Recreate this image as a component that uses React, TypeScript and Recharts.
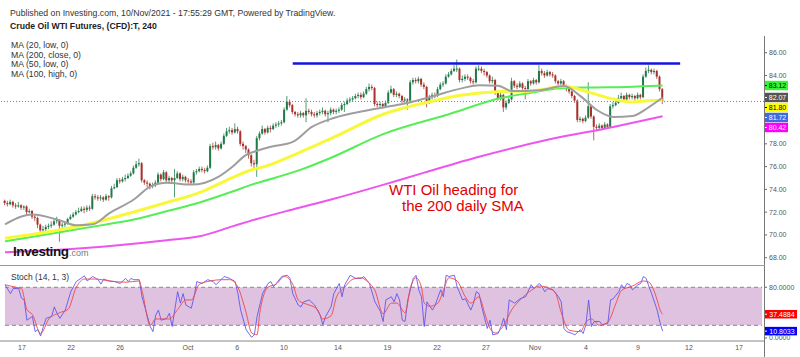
import React from 'react';
import { ComposedChart, Bar, Line, XAxis, YAxis, ReferenceLine, ReferenceArea } from 'recharts';

// ---------------- DATA ----------------
const firstOpen = 73.0;
const closes = [
  72.8,72.7,72.9,72.6,72.5,72.6,72.4,72.5,72.0,72.1,
  71.6,71.5,70.9,70.4,70.5,70.7,70.8,70.9,71.2,71.3,
  70.8,70.9,71.0,71.4,71.6,71.8,72.0,72.1,72.3,72.2,
  72.4,72.3,73.4,73.3,73.2,73.3,73.1,73.4,73.3,74.1,
  74.2,74.8,74.7,74.9,75.0,75.2,75.4,75.9,76.2,76.3,
  74.8,74.6,74.5,74.3,74.4,74.6,75.3,74.9,75.5,74.8,
  75.0,74.8,75.0,75.4,74.9,75.1,74.8,74.7,74.6,75.5,
  75.6,75.8,75.7,75.6,75.9,77.8,77.7,77.9,77.6,78.0,
  78.7,79.1,79.2,79.0,79.3,79.1,78.0,77.8,77.5,77.0,
  76.3,76.2,78.5,78.9,79.3,79.0,79.4,79.3,79.6,79.7,
  79.8,79.9,81.0,81.7,81.4,80.8,80.6,80.5,80.7,80.5,
  80.9,80.8,80.6,80.5,80.7,80.8,80.9,80.6,80.7,81.0,
  80.8,80.9,81.0,81.4,81.5,81.8,81.9,82.0,82.2,82.3,
  82.1,82.4,82.8,83.0,82.9,81.5,81.4,81.5,81.3,81.6,
  82.5,82.8,82.3,82.4,82.2,81.8,81.9,81.8,83.4,83.6,
  83.5,83.7,83.2,83.0,81.7,82.1,82.3,82.2,82.8,83.2,
  83.3,83.9,84.1,84.4,84.6,84.6,83.6,83.7,83.9,83.8,
  83.5,83.4,84.6,84.6,84.4,84.3,84.0,83.5,83.6,82.5,
  82.0,82.3,81.2,81.6,81.9,83.5,83.1,83.0,83.3,82.9,
  82.8,83.5,83.3,83.6,83.4,84.4,84.2,84.0,84.3,84.1,
  84.0,83.5,83.3,83.5,83.1,82.8,82.6,82.2,81.8,80.1,
  80.2,80.0,80.3,81.3,80.4,79.5,79.4,79.6,79.4,79.7,
  79.5,81.3,81.4,81.6,82.0,82.2,81.9,82.3,82.1,82.2,
  82.0,82.3,82.1,83.9,84.4,84.5,84.3,84.4,83.9,82.8,
  81.72,
];
const highs = [
  73.1,73.0,73.1,73.0,72.8,72.9,72.7,72.6,72.6,72.3,
  72.2,71.8,71.6,71.0,70.8,70.9,71.0,71.2,71.4,71.6,
  71.4,71.1,71.2,71.5,71.8,72.0,72.2,72.4,72.5,72.5,
  72.6,72.6,73.6,73.6,73.5,73.5,73.4,73.6,73.5,74.3,
  74.5,75.0,75.0,75.1,75.3,75.4,75.6,76.1,76.5,76.7,
  76.4,74.9,74.8,74.6,74.6,74.8,75.5,75.4,75.7,75.6,
  75.2,75.1,75.8,75.6,75.5,75.3,75.2,75.0,74.9,75.7,
  75.8,76.0,76.0,75.9,76.1,78.0,78.1,78.2,78.0,78.2,
  78.9,79.4,79.5,79.4,79.8,79.5,79.2,78.2,77.9,77.6,
  77.1,76.6,78.7,79.1,79.6,79.4,79.6,79.6,79.8,79.9,
  80.0,80.1,81.2,82.2,81.9,81.5,80.9,80.8,80.9,80.8,
  82.0,81.1,81.0,80.8,80.9,81.0,81.2,81.0,80.9,81.2,
  81.1,81.1,81.2,81.6,81.7,82.0,82.1,82.2,82.4,82.5,
  82.5,82.6,83.0,83.3,83.2,83.0,81.7,81.7,81.6,81.8,
  82.7,83.1,82.9,82.6,82.5,82.3,82.1,82.0,83.6,83.8,
  83.8,83.9,83.8,83.4,83.1,82.3,82.5,82.5,83.0,83.4,
  83.5,84.1,84.3,84.6,84.9,85.4,84.7,84.0,84.1,84.1,
  83.9,83.7,84.8,84.9,84.8,84.6,84.4,84.1,83.9,83.7,
  82.7,82.5,82.4,81.8,82.2,83.8,83.6,83.3,83.5,83.4,
  83.1,83.7,83.6,83.8,83.7,84.9,84.6,84.4,84.5,84.4,
  84.3,84.1,83.6,83.7,83.6,83.2,82.9,82.7,82.3,81.9,
  80.4,80.3,80.5,83.4,81.4,80.5,79.7,79.8,79.7,79.9,
  79.8,81.5,81.7,81.8,82.3,82.5,82.3,82.5,82.4,82.4,
  82.3,82.5,82.4,84.1,84.7,84.9,84.6,84.6,84.5,84.0,
  82.9,
];
const lows = [
  72.6,72.5,72.6,72.4,72.3,72.4,72.2,72.2,71.7,71.9,
  71.4,71.2,70.6,69.9,70.0,70.3,70.5,70.6,70.8,71.0,
  69.4,70.5,70.7,70.9,71.3,71.5,71.7,71.9,72.0,71.9,
  72.0,72.1,72.2,73.1,73.0,73.0,72.9,73.0,73.0,73.2,
  74.0,74.1,74.5,74.6,74.7,74.9,75.1,75.3,75.8,76.0,
  74.6,74.4,74.2,74.0,74.1,74.2,74.5,74.7,74.8,74.6,
  74.6,74.5,73.3,74.9,74.7,74.7,74.6,74.5,74.4,74.5,
  75.3,75.5,75.5,75.4,75.5,75.8,77.5,77.5,77.4,77.5,
  77.9,78.6,78.9,78.8,78.9,78.9,77.8,77.5,77.2,76.7,
  76.0,75.8,75.1,78.3,78.8,78.8,78.9,79.0,79.2,79.4,
  79.5,79.6,79.8,80.9,81.2,80.6,80.4,80.3,80.3,80.3,
  79.9,80.6,80.4,80.3,80.3,80.5,80.6,80.4,79.9,80.5,
  80.6,80.6,80.7,80.9,80.8,81.4,81.6,81.7,81.9,82.0,
  81.9,82.0,82.3,82.6,82.7,81.3,81.2,81.2,81.1,81.2,
  81.5,82.4,82.1,82.1,82.0,81.6,81.6,81.0,81.7,83.2,
  83.3,83.3,83.0,82.8,81.2,81.5,81.9,82.0,82.1,82.7,
  83.0,83.2,83.8,84.0,84.3,84.3,83.4,83.4,83.5,83.6,
  83.3,83.2,83.3,84.4,84.2,84.0,83.8,83.3,83.3,82.3,
  81.8,81.8,80.8,81.0,81.5,81.8,82.9,82.8,82.9,82.7,
  81.9,82.7,83.1,83.2,83.2,83.3,84.0,83.8,83.9,83.9,
  83.8,83.3,83.1,83.1,82.9,82.6,82.4,82.0,81.6,79.9,
  79.9,79.8,79.9,80.2,80.2,78.3,79.1,79.2,79.2,79.3,
  79.3,79.4,81.1,81.3,81.5,81.9,81.7,81.8,81.9,81.9,
  81.8,81.9,81.9,82.0,83.8,84.2,84.1,84.1,83.7,82.6,
  81.5,
];

// moving averages read at selected candles: [candle index, value]
const ma20Low = [[0,70.93],[10,71.8],[20,71.28],[26,70.84],[32,70.93],[38,71.89],[47,73.11],[53,74.24],[59,74.59],[68,74.42],[73,74.59],[78,75.12],[83,75.99],[88,77.04],[92,77.39],[97,77.74],[105,78.17],[112,79.48],[120,80.27],[131,80.88],[139,81.23],[145,81.49],[155,82.1],[167,82.89],[173,83.15],[180,83.1],[185,82.63],[195,82.71],[204,83.07],[210,82.19],[216,80.97],[222,80.36],[229,80.45],[235,81.23],[240,82.07]];
const ma50Low = [[0,69.7],[23,70.58],[35,71.23],[47,72.02],[59,72.85],[71,73.72],[83,75.03],[89,75.64],[95,76.02],[107,77.19],[120,78.58],[138,80.6],[155,81.7],[167,82.28],[181,82.6],[192,82.65],[204,83.05],[213,82.54],[222,81.93],[229,81.67],[236,81.8],[240,81.8]];
const ma100High = [[0,69.44],[20,70.23],[35,70.84],[47,71.36],[60,72.15],[71,72.85],[83,73.81],[89,74.33],[108,75.73],[119,76.78],[138,78.85],[162,80.6],[181,82.02],[191,82.45],[203,82.89],[215,82.95],[227,83.0],[240,83.12]];
const ma200Close = [[0,68.48],[28,68.83],[59,69.53],[71,69.88],[83,70.75],[89,71.19],[105,72.24],[119,73.11],[137,74.33],[153,75.47],[173,76.86],[198,78.35],[222,79.48],[240,80.42]];

const stochK = [[0,84],[2,70],[3,78],[5,78],[6,63],[7,60],[8,28],[10,34],[11,10],[12,13],[13,3],[14,18],[15,31],[17,34],[18,49],[19,39],[20,31],[22,44],[24,73],[26,89],[27,92],[29,98],[30,90],[32,97],[34,92],[35,85],[36,93],[38,90],[40,89],[42,86],[44,94],[45,89],[46,94],[47,92],[49,92],[50,65],[52,34],[53,18],[54,10],[55,36],[56,44],[57,28],[59,31],[60,39],[61,18],[63,73],[64,55],[65,70],[66,52],[68,47],[69,65],[70,89],[72,86],[74,92],[76,89],[77,84],[80,97],[82,94],[84,89],[85,70],[86,44],[88,13],[90,1],[91,5],[92,34],[94,70],[96,86],[97,89],[98,81],[99,86],[101,97],[103,99],[104,94],[105,70],[107,52],[108,49],[109,57],[111,60],[113,52],[115,36],[116,21],[117,34],[119,49],[120,70],[122,86],[123,65],[124,84],[126,99],[128,94],[130,94],[131,97],[133,86],[135,57],[137,42],[138,26],[139,60],[141,65],[142,57],[143,70],[144,60],[145,28],[146,26],[147,60],[149,94],[150,99],[151,76],[152,65],[153,18],[154,57],[156,44],[157,52],[159,76],[160,65],[161,99],[162,97],[164,99],[165,81],[167,60],[168,62],[170,44],[171,55],[172,73],[173,70],[174,49],[176,15],[177,28],[178,5],[180,7],[181,18],[182,31],[183,13],[184,60],[186,55],[188,62],[190,65],[192,84],[193,78],[195,86],[196,81],[197,73],[198,78],[200,76],[202,65],[203,57],[204,15],[205,10],[207,7],[208,5],[210,13],[211,7],[212,21],[213,60],[214,18],[215,26],[217,26],[218,21],[220,23],[221,60],[222,62],[224,73],[225,84],[226,78],[227,86],[228,84],[229,76],[231,84],[232,86],[233,97],[234,94],[235,81],[236,70],[238,44],[239,25],[240,10.8033]];
const stochD = [[0,84],[4,80],[6,78],[8,45],[10,37],[13,7],[16,30],[20,40],[23,45],[26,80],[29,93],[33,93],[38,90],[44,88],[49,90],[50,75],[53,20],[55,30],[57,30],[60,30],[63,45],[66,60],[68,60],[71,85],[75,90],[79,92],[82,92],[85,80],[88,40],[90,8],[92,5],[93,40],[96,80],[99,85],[102,97],[105,85],[107,60],[109,55],[111,52],[114,45],[116,30],[119,35],[121,65],[124,80],[127,93],[130,95],[132,90],[135,75],[138,38],[141,55],[143,55],[146,40],[148,80],[150,95],[152,80],[153,55],[155,50],[158,55],[160,75],[162,95],[165,90],[168,65],[170,55],[173,65],[175,40],[177,15],[179,8],[182,20],[185,45],[188,60],[192,75],[195,82],[199,78],[201,70],[203,40],[206,12],[210,10],[212,25],[214,30],[217,20],[220,25],[223,55],[225,75],[229,82],[233,90],[235,88],[238,60],[239,45],[240,37.4884]];

const xTickIdx = [6.2, 24.1, 42.0, 66.8, 84.7, 101.8, 121.5, 139.6, 157.7, 175.5, 193.4, 212.0, 231.0, 249.6, 267.9];
const xTickLabels = ['17','22','26','Oct','6','10','14','19','22','27','Nov','4','9','12','17'];
const priceTicks = [68, 70, 72, 74, 76, 78, 84, 86];
const stochTicks = [0, 80];
const maLegend = ['MA (20, low, 0)', 'MA (200, close, 0)', 'MA (50, low, 0)', 'MA (100, high, 0)'];
const resistanceLevel = 85.05;
const resistanceFrom = 105;
const resistanceTo = 246.4;
const lastPrice = 81.72;
const priceTagValues = [83.12, 82.07, 81.80, 81.72, 80.42];
const stochTagValues = [37.4884, 10.8033];
const stochBand = [20, 80];

// ---------------- STYLE ----------------
const FONT = '"Liberation Sans", Arial, Helvetica, sans-serif';
const UP = '#1f7a47';
const DOWN = '#a8322b';
const XMIN = -1.825;
const XMAX = 277.0;
const YMIN = 67.36;
const YMAX = 90.63;
const MAIN_H = 265;
const SMIN = -4.8;
const SMAX = 113.6;
const priceTagStyles = [
  { bg: '#33f533', fg: '#000' },
  { bg: '#555555', fg: '#fff' },
  { bg: '#ffff00', fg: '#000' },
  { bg: '#4169e1', fg: '#fff' },
  { bg: '#ff00ff', fg: '#fff' },
];
const stochTagStyles = [
  { bg: '#ff0000', fg: '#fff' },
  { bg: '#0000ff', fg: '#fff' },
];

const rows = closes.map((c, i) => {
  const o = i === 0 ? firstOpen : closes[i - 1];
  return { i, o, c, h: highs[i], l: lows[i], range: [lows[i], highs[i]] };
});
const series = (pairs: number[][]) => pairs.map(([i, v]) => ({ i, v }));

// stacked tag offsets (TradingView pushes overlapping price tags down)
const pxPerUnit = MAIN_H / (YMAX - YMIN);
const tagShifts: number[] = [];
{
  let prev = -1e9;
  priceTagValues.forEach((v) => {
    const y = (YMAX - v) * pxPerUnit;
    const c = Math.max(y, prev + 10);
    tagShifts.push(c - y);
    prev = c;
  });
}

const Candle = (props: any) => {
  const { x, y, width, height, payload } = props;
  if (!payload || x == null) return null;
  const { o, c, h, l } = payload;
  const hh = Math.abs(height);
  const top = height >= 0 ? y : y + height;
  const ppu = hh / Math.max(h - l, 1e-6);
  const cx = x + width / 2;
  const bTop = top + (h - Math.max(o, c)) * ppu;
  const bBot = top + (h - Math.min(o, c)) * ppu;
  const col = c >= o ? UP : DOWN;
  return (
    <g>
      <line x1={cx} x2={cx} y1={top} y2={top + hh} stroke={col} strokeOpacity={0.75} strokeWidth={1} />
      <rect x={cx - 1} y={bTop} width={2} height={Math.max(1, bBot - bTop)} fill={col} />
    </g>
  );
};

const Tag = (props: any) => {
  const { viewBox, text, bg, fg, shift = 0, w = 23, h = 9.4 } = props;
  if (!viewBox) return null;
  const yy = viewBox.y + shift;
  const x0 = viewBox.x + viewBox.width + 1;
  return (
    <g>
      <rect x={x0} y={yy - h / 2} width={w} height={h} fill={bg} />
      <line x1={x0} x2={x0 + 2} y1={yy} y2={yy} stroke={fg} strokeWidth={1} />
      <text x={x0 + w / 2 + 1} y={yy} dy="0.36em" textAnchor="middle" fontSize={7} fontFamily={FONT} fill={fg}>{text}</text>
    </g>
  );
};

const tickLabel = (v: number) => {
  const k = xTickIdx.indexOf(v);
  return k >= 0 ? xTickLabels[k] : '';
};

const maLine = (pairs: number[][], color: string, width: number, key: string) => (
  <Line key={key} data={series(pairs)} dataKey="v" type="monotone" stroke={color} strokeWidth={width}
    dot={false} activeDot={false} isAnimationActive={false} />
);

export default function App() {
  return (
    <div style={{ position: 'absolute', left: 0, top: 0, width: 800, height: 357, background: '#fff', overflow: 'hidden' }}>
      <div style={{ position: 'absolute', left: 0, top: 0 }}>
        <ComposedChart width={800} height={MAIN_H} data={rows} margin={{ top: 0, right: 0, bottom: 0, left: 0 }}>
          <XAxis dataKey="i" type="number" domain={[XMIN, XMAX]} allowDataOverflow hide />
          <YAxis orientation="right" width={36} domain={[YMIN, YMAX]} allowDataOverflow ticks={priceTicks}
            tickFormatter={(v: number) => v.toFixed(2)} axisLine={false} tickLine={{ stroke: '#666' }} tickSize={3} tickMargin={2}
            tick={{ fontSize: 7, fill: '#555', fontFamily: FONT }} interval={0} />
          <ReferenceLine y={lastPrice} stroke="#5b7de8" strokeDasharray="1 2" strokeWidth={1} />
          <Bar dataKey="range" shape={Candle} barSize={2} isAnimationActive={false} />
          {maLine(ma200Close, '#ee55ee', 2, 'ma200')}
          {maLine(ma100High, '#55ee55', 2, 'ma100')}
          {maLine(ma50Low, '#f8f83a', 3, 'ma50')}
          {maLine(ma20Low, '#9e9e9e', 2, 'ma20')}
          <ReferenceLine segment={[{ x: resistanceFrom, y: resistanceLevel }, { x: resistanceTo, y: resistanceLevel }]} stroke="#1414e0" strokeWidth={2.4} />
          {priceTagValues.map((v, k) => (
            <ReferenceLine key={'pt' + k} y={v} stroke="none"
              label={<Tag text={v.toFixed(2)} bg={priceTagStyles[k].bg} fg={priceTagStyles[k].fg} shift={tagShifts[k]} />} />
          ))}
        </ComposedChart>
      </div>

      <div style={{ position: 'absolute', left: 0, top: 266 }}>
        <ComposedChart width={800} height={91} data={rows} margin={{ top: 0, right: 0, bottom: 0, left: 0 }}>
          <XAxis dataKey="i" type="number" domain={[XMIN, XMAX]} allowDataOverflow ticks={xTickIdx} interval={0}
            tickFormatter={tickLabel} height={16} axisLine={{ stroke: '#888' }} tickLine={false} tickSize={3} tickMargin={1}
            tick={{ fontSize: 7, fill: '#555', fontFamily: FONT }} />
          <YAxis orientation="right" width={36} domain={[SMIN, SMAX]} allowDataOverflow ticks={stochTicks} interval={0}
            tickFormatter={(v: number) => v.toFixed(4)} axisLine={false} tickLine={{ stroke: '#666' }} tickSize={3} tickMargin={2}
            tick={{ fontSize: 7, fill: '#555', fontFamily: FONT }} />
          <ReferenceArea x1={0} x2={276.3} y1={stochBand[0]} y2={stochBand[1]} fill="#dfc2df" fillOpacity={1} stroke="none" />
          <ReferenceLine segment={[{ x: 0, y: stochBand[1] }, { x: 276.3, y: stochBand[1] }]} stroke="#888" strokeDasharray="4 3" />
          <ReferenceLine segment={[{ x: 0, y: stochBand[0] }, { x: 276.3, y: stochBand[0] }]} stroke="#888" strokeDasharray="4 3" />
          <Line data={series(stochK)} dataKey="v" type="linear" stroke="#5a50f0" strokeOpacity={0.85} strokeWidth={1} dot={false} activeDot={false} isAnimationActive={false} />
          <Line data={series(stochD)} dataKey="v" type="monotone" stroke="#f04848" strokeOpacity={0.9} strokeWidth={1} dot={false} activeDot={false} isAnimationActive={false} />
          {stochTagValues.map((v, k) => (
            <ReferenceLine key={'st' + k} y={v} stroke="none"
              label={<Tag text={v.toFixed(4)} bg={stochTagStyles[k].bg} fg={stochTagStyles[k].fg} w={32} h={8.5} />} />
          ))}
        </ComposedChart>
      </div>

      <div style={{ position: 'absolute', left: 764, top: 36, width: 1, height: 321, background: '#777' }} />
      <div style={{ position: 'absolute', left: 0, top: 265, width: 765, height: 1, background: '#999' }} />

      <svg width={800} height={357} style={{ position: 'absolute', left: 0, top: 0, pointerEvents: 'none' }} fontFamily={FONT}>
        <text x={10} y={15.7} fontSize={8.7} fill="#333">Published on Investing.com, 10/Nov/2021 - 17:55:29 GMT, Powered by TradingView.</text>
        <text x={10} y={28.7} fontSize={8.7} fontWeight="bold" fill="#222">Crude Oil WTI Futures, (CFD):T, 240</text>
        {maLegend.map((t, k) => (
          <text key={t} x={11} y={47.8 + k * 9.7} fontSize={8.7} fill="#333">{t}</text>
        ))}
        <text x={11} y={279.8} fontSize={8.5} fill="#333">Stoch (14, 1, 3)</text>
        <text x={389} y={195} fontSize={15} fill="#e00000">WTI Oil heading for</text>
        <text x={402} y={211} fontSize={15} fill="#e00000">the 200 daily SMA</text>
        <text x={13} y={256} fontSize={13.5} fontWeight="bold" fill="#111" letterSpacing={-0.4}>Investing</text>
        <text x={69} y={256} fontSize={9} fill="#777">.com</text>
      </svg>
    </div>
  );
}
